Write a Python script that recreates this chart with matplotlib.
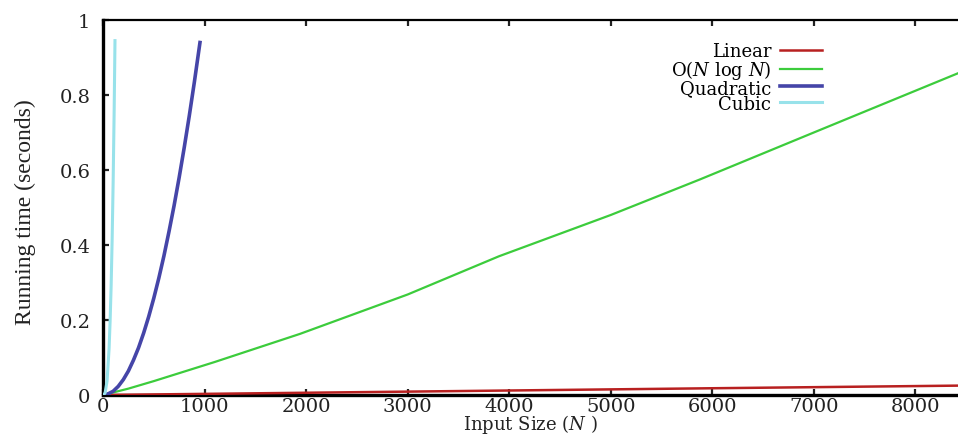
"""Growth of running time for linear, N log N, quadratic and cubic algorithms."""

import matplotlib

matplotlib.use("Agg")
from matplotlib import pyplot as plt

# values
linear_n = [0, 2000, 4000, 6000, 8420]
linear_t = [0.0, 0.006, 0.012, 0.018, 0.025]

nlogn_n = [0, 250, 500, 1100, 1940, 3000, 3900, 5000, 5880, 7000, 8420]
nlogn_t = [0.0, 0.017, 0.037, 0.088, 0.163, 0.268, 0.370, 0.480, 0.575, 0.700, 0.858]

quad_n = [0, 50, 100, 150, 200, 250, 300, 350, 400, 450, 500, 550, 600,
          650, 700, 750, 800, 850, 900, 955]
quad_t = [0.0, 0.003, 0.010, 0.023, 0.041, 0.064, 0.093, 0.126, 0.165, 0.209,
          0.258, 0.312, 0.371, 0.436, 0.505, 0.580, 0.660, 0.745, 0.835, 0.940]

cubic_n = [0, 20, 40, 60, 70, 80, 90, 100, 110, 118]
cubic_t = [0.0, 0.005, 0.037, 0.124, 0.197, 0.290, 0.415, 0.570, 0.760, 0.945]

x_ticks = [0, 1000, 2000, 3000, 4000, 5000, 6000, 7000, 8000]
y_ticks = [0, 0.2, 0.4, 0.6, 0.8, 1.0]
y_tick_labels = ["0", "0.2", "0.4", "0.6", "0.8", "1"]

plt.rcParams["font.family"] = ["DejaVu Serif"]
plt.rcParams["mathtext.fontset"] = "dejavuserif"

W, H = 958, 435
fig = plt.figure(figsize=(W / 100, H / 100), dpi=100)
ax = fig.add_axes([103 / W, 39 / H, 1 - 103 / W, (396 - 21) / H])

ax.plot(linear_n, linear_t, color="#b82020", lw=1.8, label="Linear", zorder=3)
ax.plot(nlogn_n, nlogn_t, color="#3ccc3c", lw=1.6, label="O($N$ log $N$)", zorder=3)
ax.plot(quad_n, quad_t, color="#4545a8", lw=2.6, label="Quadratic", zorder=3)
ax.plot(cubic_n, cubic_t, color="#98e2ea", lw=2.2, label="Cubic", zorder=3)

ax.set_xlim(0, 8420)
ax.set_ylim(0, 1)
ax.set_xticks(x_ticks)
ax.set_yticks(y_ticks)
ax.set_yticklabels(y_tick_labels)

ax.spines["right"].set_visible(False)
ax.spines["left"].set_linewidth(2.4)
ax.spines["bottom"].set_linewidth(2.4)
ax.spines["top"].set_linewidth(1.6)
ax.tick_params(axis="both", direction="in", length=4.5, width=1.6,
               labelsize=14, colors="#222222")
ax.tick_params(axis="x", top=True, pad=1.5)
ax.tick_params(axis="y", pad=9)

ax.set_xlabel("Input Size ($N$ )", fontsize=13, labelpad=-2.5, color="#222222")
ax.set_ylabel("Running time (seconds)", fontsize=17, family=["Liberation Serif"],
              color="#222222")
ax.yaxis.set_label_coords((36 - 103) / 855, 0.49)

ax.legend(
    loc="upper right",
    bbox_to_anchor=(822 / W, 1 - 43 / H),
    bbox_transform=fig.transFigure,
    frameon=False,
    markerfirst=False,
    fontsize=13,
    handlelength=2.3,
    handletextpad=0.5,
    labelspacing=-0.12,
    borderpad=0,
    borderaxespad=0,
)

fig.savefig("out.png", dpi=100)
